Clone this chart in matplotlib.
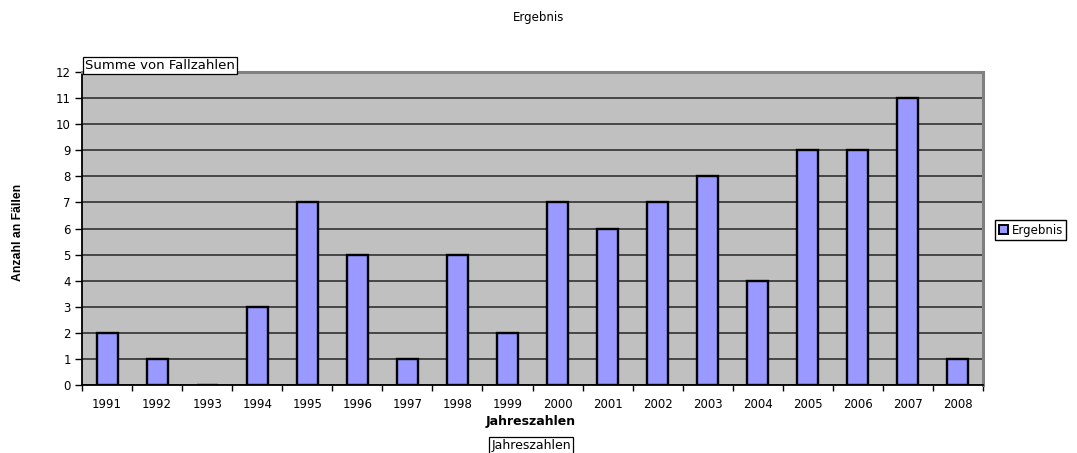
import matplotlib.pyplot as plt
from matplotlib.patches import Patch
import numpy as np

plt.rcParams['font.family'] = ['DejaVu Sans']

# Daten
jahre = ['1991', '1992', '1993', '1994', '1995', '1996', '1997', '1998', '1999',
         '2000', '2001', '2002', '2003', '2004', '2005', '2006', '2007', '2008']
fallzahlen = [2, 1, 0, 3, 7, 5, 1, 5, 2, 7, 6, 7, 8, 4, 9, 9, 11, 1]

fig = plt.figure(figsize=(10.77, 4.53), dpi=100)
ax = fig.add_axes([82 / 1077, 1 - 385 / 453, 901 / 1077, 313 / 453])

x = np.arange(len(jahre))
ax.bar(x, fallzahlen, width=0.42, color='#9999FF', edgecolor='black',
       linewidth=1.7, zorder=3)

ax.set_facecolor('#C0C0C0')
ax.set_xlim(-0.5, len(jahre) - 0.5)
ax.set_ylim(0, 12)
ax.set_yticks(range(0, 13))
ax.yaxis.grid(True, color='#262626', linewidth=1.1, zorder=1)
ax.set_axisbelow(True)

# Kategorienbeschriftung, Striche zwischen den Jahren
ax.set_xticks(x)
ax.set_xticklabels(jahre)
ax.set_xticks(np.arange(-0.5, len(jahre)), minor=True)
ax.tick_params(axis='x', which='major', length=0, pad=9, labelsize=8.5)
ax.tick_params(axis='x', which='minor', length=4, width=1, direction='out')
ax.tick_params(axis='y', length=5, width=1, direction='out', labelsize=8.5, pad=3)

for s in ['top', 'right']:
    ax.spines[s].set_color('#808080')
    ax.spines[s].set_linewidth(2.2)
for s in ['left', 'bottom']:
    ax.spines[s].set_color('black')
    ax.spines[s].set_linewidth(1.3)
ax.spines['bottom'].set_zorder(4)

fig.text(0.5, 1 - 18 / 453, 'Ergebnis', ha='center', va='center', fontsize=8.5)

ax.text(0.003, 1.0, 'Summe von Fallzahlen', transform=ax.transAxes, ha='left',
        va='bottom', fontsize=9.5,
        bbox=dict(facecolor='white', edgecolor='black', linewidth=0.9, pad=1.5))

fig.text(531 / 1077, 1 - 421 / 453, 'Jahreszahlen', ha='center', va='center',
         fontsize=9, fontweight='bold')
fig.text(531 / 1077, 1 - 446 / 453, 'Jahreszahlen', ha='center', va='center',
         fontsize=9,
         bbox=dict(facecolor='white', edgecolor='black', linewidth=0.9, pad=1.5))

fig.text(18 / 1077, 1 - 232 / 453, 'Anzahl an Fällen', rotation=90, ha='center',
         va='center', fontsize=8.8, fontweight='bold',
         family=['Liberation Sans Narrow', 'Liberation Sans', 'DejaVu Sans'])

handles = [Patch(facecolor='#9999FF', edgecolor='black', linewidth=1.4,
                 label='Ergebnis')]
fig.legend(handles=handles, loc='center left',
           bbox_to_anchor=(995 / 1077, 1 - 230 / 453), fontsize=8.5,
           frameon=True, fancybox=False, edgecolor='black', framealpha=1,
           borderpad=0.3, handlelength=0.8, handleheight=0.8,
           handletextpad=0.3, borderaxespad=0)

fig.savefig('out.png', dpi=100)
